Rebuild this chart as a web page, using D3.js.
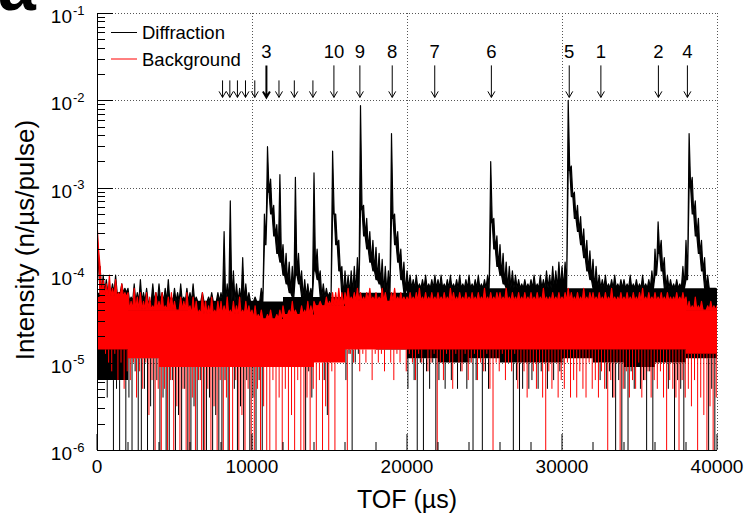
<!DOCTYPE html>
<html>
<head>
<meta charset="utf-8">
<script src="https://cdn.jsdelivr.net/npm/d3@7"></script>
<style>
  body { margin: 0; background: #fff; }
  svg { display: block; font-family: "Liberation Sans", Arial, sans-serif; }
</style>
</head>
<body>
<div id="chart"></div>
<script>
const width = 749;
const height = 524;
const plotLeft = 97, plotRight = 717, plotTop = 13, plotBottom = 450;

// TOF bin step (us); values are log10 of intensity (n/us/pulse)
const tofStep = 200;
// dense part of the noise band, read per 2000 us block
const bandStep = 2000;

// Diffraction: max per bin, and min per bin (on the peak tails: lower edge of the tail)
const diffHiLog = [
  -3.45,-3.9,-4.0,-4.05,-4.15,-4.1,-4.0,-4.2,-4.1,-4.15,     // 0
  -4.15,-4.25,-4.1,-4.2,-4.05,-4.2,-4.15,-4.3,-4.1,-4.2,     // 2000
  -4.1,-4.2,-4.15,-4.05,-4.25,-4.15,-4.2,-4.1,-4.25,-4.15,   // 4000
  -4.2,-4.1,-4.25,-4.3,-4.2,-4.35,-4.25,-4.2,-4.3,-4.2,      // 6000
  -4.2,-3.5,-4.1,-3.15,-3.95,-4.1,-4.15,-3.8,-4.1,-4.2,      // 8000
  -4.3,-4.25,-4.35,-4.15,-3.3,-2.53,-2.9,-3.2,-3.42,-2.85,   // 10000
  -3.65,-3.75,-3.85,-3.9,-2.88,-3.75,-3.95,-4.05,-4.1,-4.15, // 12000
  -2.83,-3.7,-3.95,-4.1,-4.15,-4.2,-2.58,-3.3,-3.6,-3.9,     // 14000
  -3.95,-4.0,-3.95,-3.9,-3.8,-2.06,-3.2,-3.35,-3.5,-3.6,     // 16000
  -3.68,-3.75,-3.82,-3.9,-3.95,-2.38,-3.3,-3.5,-3.7,-3.85,   // 18000
  -3.95,-4.0,-4.05,-4.0,-4.1,-4.05,-4.0,-4.1,-4.05,-4.0,     // 20000
  -4.05,-4.0,-4.1,-4.05,-4.0,-4.1,-4.05,-4.0,-4.1,-4.05,     // 22000
  -4.0,-4.1,-4.05,-4.0,-4.1,-4.05,-4.0,-2.7,-3.35,-3.55,     // 24000
  -3.65,-3.75,-3.85,-3.9,-3.95,-4.0,-4.05,-4.1,-4.05,-4.1,   // 26000
  -4.05,-4.0,-4.1,-4.0,-4.05,-3.95,-4.0,-3.9,-3.95,-3.85,    // 28000
  -3.9,-3.85,-2.0,-2.75,-3.05,-3.2,-3.33,-3.47,-3.6,-3.72,   // 30000
  -3.82,-3.9,-4.0,-4.05,-4.0,-4.1,-4.05,-4.0,-4.1,-4.05,     // 32000
  -4.05,-4.1,-4.0,-4.1,-4.05,-4.1,-4.0,-4.1,-4.05,-3.95,     // 34000
  -3.7,-3.39,-3.6,-3.8,-4.0,-4.05,-4.1,-4.05,-4.1,-3.9,      // 36000
  -3.6,-2.38,-2.88,-3.15,-3.35,-3.6,-3.8,-4.0,-4.15,-4.2,    // 38000
  -4.3
];
const diffLoLog = [
  -3.9,-4.6,-5.2,-5.4,-4.9,-6,-5.3,-6,-5.0,-6,               // 0
  -5.4,-6,-5.1,-6,-6,-5.3,-6,-5.5,-6,-5.2,                   // 2000
  -6,-5.4,-6,-6,-5.2,-6,-5.6,-6,-5.3,-6,                     // 4000
  -6,-5.5,-6,-5.2,-6,-6,-5.4,-6,-5.6,-6,                     // 6000
  -6,-5.2,-6,-5.0,-5.3,-6,-5.5,-6,-5.2,-6,                   // 8000
  -5.4,-6,-5.2,-6,-3.65,-3.05,-3.3,-3.55,-3.75,-3.85,        // 10000
  -4.0,-4.1,-4.2,-4.25,-4.0,-4.1,-4.9,-6,-5.1,-5.4,          // 12000
  -3.95,-4.05,-4.3,-5.2,-5.6,-5.0,-3.3,-3.65,-3.95,-4.25,    // 14000
  -5.2,-4.9,-6,-5.0,-4.9,-3.25,-3.55,-3.7,-3.85,-3.95,       // 16000
  -4.05,-4.1,-4.2,-4.25,-4.3,-3.35,-3.65,-3.85,-4.05,-4.2,   // 18000
  -5.3,-4.9,-5.2,-6,-5.0,-6,-5.1,-5.3,-5.0,-6,               // 20000
  -5.2,-4.9,-5.3,-5.0,-5.2,-4.9,-5.3,-5.1,-5.0,-5.3,         // 22000
  -5.0,-6,-5.2,-4.9,-6,-5.1,-5.3,-3.4,-3.7,-3.9,             // 24000
  -4.0,-4.1,-4.2,-4.25,-6,-5.2,-6,-5.3,-5.0,-5.3,            // 26000
  -5.2,-5.0,-5.3,-5.1,-4.9,-5.3,-5.0,-5.2,-4.9,-5.1,         // 28000
  -5.0,-4.9,-2.8,-3.1,-3.35,-3.5,-3.65,-3.8,-3.95,-4.05,     // 30000
  -4.15,-4.25,-5.2,-5.0,-5.3,-5.1,-5.4,-6,-5.2,-6,           // 32000
  -5.3,-6,-5.1,-5.3,-5.0,-5.3,-5.2,-6,-5.1,-6,               // 34000
  -4.0,-3.75,-3.95,-4.15,-5.3,-5.0,-6,-5.2,-5.3,-6,          // 36000
  -4.05,-3.0,-3.3,-3.55,-3.75,-3.95,-4.15,-6,-5.3,-6,        // 38000
  -5.2
];
const diffBandTopLog = [
  -4.2,-4.3,-4.3,-4.3,-4.3,-4.3,-4.25,-4.25,-4.2,-4.2,-4.15,
  -4.15,-4.15,-4.15,-4.15,-4.15,-4.15,-4.15,-4.15,-4.15,-4.2
];
const diffBandBottomLog = [
  -5.2,-4.95,-4.9,-4.9,-4.85,-4.75,-4.7,-4.7,-4.8,-4.85,-4.95,
  -5.0,-4.95,-5.0,-5.0,-4.95,-5.0,-5.05,-5.0,-4.95,-5.0
];

// Background: max and min per bin
const bkgHiLog = [
  -3.4,-3.9,-4.05,-4.1,-4.0,-4.15,-4.05,-4.2,-4.1,-4.2,      // 0
  -4.2,-4.3,-4.15,-4.25,-4.2,-4.3,-4.2,-4.25,-4.35,-4.2,     // 2000
  -4.3,-4.2,-4.35,-4.25,-4.2,-4.3,-4.4,-4.25,-4.3,-4.2,      // 4000
  -4.35,-4.25,-4.3,-4.4,-4.2,-4.3,-4.35,-4.25,-4.4,-4.3,     // 6000
  -4.3,-4.35,-4.25,-4.4,-4.3,-4.35,-4.25,-4.4,-4.3,-4.35,    // 8000
  -4.4,-4.35,-4.45,-4.4,-4.5,-4.45,-4.4,-4.5,-4.45,-4.4,     // 10000
  -4.35,-4.45,-4.4,-4.3,-4.4,-4.45,-4.35,-4.4,-4.3,-4.35,    // 12000
  -4.3,-4.4,-4.3,-4.35,-4.25,-4.3,-4.2,-4.2,-4.15,-4.2,      // 14000
  -4.2,-4.15,-4.25,-4.2,-4.15,-4.2,-4.25,-4.2,-4.15,-4.25,   // 16000
  -4.2,-4.25,-4.15,-4.2,-4.3,-4.2,-4.15,-4.25,-4.2,-4.25,    // 18000
  -4.25,-4.2,-4.25,-4.2,-4.15,-4.25,-4.2,-4.25,-4.2,-4.25,   // 20000
  -4.2,-4.25,-4.2,-4.25,-4.15,-4.2,-4.25,-4.2,-4.25,-4.2,    // 22000
  -4.25,-4.2,-4.25,-4.2,-4.25,-4.15,-4.25,-4.2,-4.25,-4.2,   // 24000
  -4.2,-4.25,-4.15,-4.25,-4.2,-4.25,-4.2,-4.25,-4.2,-4.25,   // 26000
  -4.2,-4.25,-4.2,-4.25,-4.15,-4.25,-4.25,-4.2,-4.25,-4.2,   // 28000
  -4.25,-4.2,-4.15,-4.2,-4.25,-4.2,-4.25,-4.15,-4.25,-4.2,   // 30000
  -4.2,-4.25,-4.2,-4.25,-4.2,-4.25,-4.15,-4.25,-4.25,-4.2,   // 32000
  -4.25,-4.2,-4.25,-4.2,-4.25,-4.2,-4.15,-4.25,-4.2,-4.25,   // 34000
  -4.2,-4.25,-4.2,-4.25,-4.2,-4.25,-4.25,-4.2,-4.25,-4.2,    // 36000
  -4.25,-4.3,-4.35,-4.25,-4.35,-4.3,-4.4,-4.35,-4.3,-4.35,   // 38000
  -4.35
];
const bkgLoLog = [
  -3.7,-4.6,-4.9,-5.0,-5.1,-4.9,-5.2,-5.0,-5.3,-5.1,
  -5.2,-5.0,-5.4,-5.1,-5.3,-5.0,-5.6,-5.2,-6,-5.3,
  -6,-5.3,-6,-5.2,-6,-5.5,-6,-5.3,-6,-6,
  -5.4,-6,-5.2,-6,-6,-5.3,-6,-5.5,-6,-5.2,
  -6,-5.4,-6,-6,-5.2,-6,-5.6,-6,-5.3,-6,
  -6,-5.3,-6,-5.5,-6,-6,-5.2,-6,-5.4,-6,
  -5.3,-6,-5.6,-6,-5.2,-6,-6,-5.4,-6,-5.3,
  -6,-5.2,-6,-5.5,-6,-5.1,-6,-4.9,-5.0,-4.8,
  -6,-4.9,-5.0,-4.8,-5.1,-4.9,-5.0,-4.8,-5.2,-4.9,
  -5.0,-4.9,-5.1,-4.8,-5.0,-5.2,-4.9,-5.0,-4.8,-5.1,
  -4.9,-5.0,-5.2,-4.9,-5.0,-4.8,-5.1,-5.0,-4.9,-6,
  -5.0,-5.2,-4.9,-5.0,-5.3,-4.9,-5.0,-5.1,-4.9,-5.2,
  -5.0,-4.9,-5.2,-5.0,-5.1,-4.9,-5.3,-6,-5.0,-5.1,
  -4.9,-5.2,-5.0,-5.1,-4.9,-5.3,-5.0,-5.1,-5.4,-5.0,
  -5.1,-5.3,-5.0,-5.4,-6,-5.1,-5.3,-5.0,-5.4,-5.2,
  -5.3,-5.0,-5.4,-5.2,-5.4,-5.1,-5.3,-5.4,-5.0,-5.3,
  -5.2,-5.4,-5.1,-5.3,-6,-5.2,-5.4,-5.0,-6,-5.3,
  -5.1,-5.4,-5.2,-5.3,-5.0,-5.4,-5.2,-5.1,-5.4,-5.2,
  -5.3,-5.1,-5.4,-6,-5.2,-5.3,-5.4,-6,-5.2,-5.4,
  -5.3,-5.5,-5.2,-6,-5.4,-5.6,-6,-5.5,-6,-5.4,
  -5.3
];
const bkgBandTopLog = [
  -4.25,-4.4,-4.4,-4.45,-4.45,-4.5,-4.45,-4.35,-4.3,-4.3,-4.3,
  -4.3,-4.3,-4.3,-4.3,-4.3,-4.3,-4.3,-4.3,-4.4,-4.4
];
const bkgBandBottomLog = [
  -4.85,-4.95,-5.05,-5.05,-5.05,-5.05,-5.05,-5.0,-4.85,-4.85,-4.85,
  -4.85,-4.85,-4.85,-4.85,-4.85,-4.85,-4.85,-4.85,-4.9,-4.9
];

// Bragg edge markers
const peakLabels = ["3", "10", "9", "8", "7", "6", "5", "1", "2", "4"];
const peakTof = [10930, 15285, 16960, 19047, 21790, 25443, 30467, 32509, 36219, 38090];
const minorPeakTof = [8100, 8570, 9060, 9580, 10180, 11740, 12730, 13930];

const xTicks = [0, 10000, 20000, 30000, 40000];
const yDecades = [-6, -5, -4, -3, -2, -1];

const seriesNames = ["Diffraction", "Background"];
const seriesColors = ["#000000", "#ff0000"];

const svg = d3.select('#chart')
  .append('svg')
  .attr('width', width)
  .attr('height', height);

const x = d3.scaleLinear().domain([0, 40000]).range([plotLeft, plotRight]);
const y = d3.scaleLog().domain([1e-6, 1e-1]).range([plotBottom, plotTop]);
const yl = v => y(Math.pow(10, v));

svg.append('defs').append('clipPath')
  .attr('id', 'plot')
  .append('rect')
  .attr('x', plotLeft).attr('y', plotTop)
  .attr('width', plotRight - plotLeft).attr('height', plotBottom - plotTop);

// grid
const grid = svg.append('g').attr('stroke', '#555').attr('stroke-dasharray', '1,2').attr('stroke-width', 1);
grid.selectAll('line.gx')
  .data(xTicks.slice(1))
  .enter().append('line')
  .attr('x1', d => x(d) + 0.5).attr('x2', d => x(d) + 0.5)
  .attr('y1', plotTop).attr('y2', plotBottom);
grid.selectAll('line.gy')
  .data(yDecades.slice(1))
  .enter().append('line')
  .attr('x1', plotLeft).attr('x2', plotRight)
  .attr('y1', d => Math.round(yl(d)) + 0.5)
  .attr('y2', d => Math.round(yl(d)) + 0.5);

const area = d3.area().x(d => d.x).y0(d => d.y0).y1(d => d.y1);

const drawSeries = (g, hi, lo, bandTop, bandBottom, color, shift) => {
  const blk = i => Math.floor(i * tofStep / bandStep);
  // dense band of the noise
  const bandPts = d3.range(0, 40001, bandStep / 4).map(t => ({
    x: x(t),
    y1: yl(bandTop[Math.floor(t / bandStep)]),
    y0: yl(bandBottom[Math.floor(t / bandStep)])
  }));
  g.append('path')
    .attr('d', area.curve(d3.curveStepAfter)(bandPts))
    .attr('fill', color);
  // per-bin maxima (and tails) as a saw-tooth on top of the band
  const pts = [];
  hi.forEach((h, i) => {
    const floor = Math.max(lo[i], bandTop[blk(i)]);
    pts.push({ x: x(i * tofStep), y1: yl(h), y0: yl(floor) });
    pts.push({ x: x(i * tofStep + tofStep / 2), y1: yl(floor), y0: yl(floor) });
  });
  g.append('path')
    .attr('d', area.curve(d3.curveLinear)(pts))
    .attr('fill', color)
    .attr('stroke', color)
    .attr('stroke-width', 1.2)
    .attr('stroke-linejoin', 'round');
  // bins dropping below the band (down to empty bins)
  const drops = lo.map((v, i) => {
    const b = bandBottom[blk(i)];
    if (v >= b) return '';
    const xp = x(i * tofStep + shift * tofStep);
    return `M${xp},${yl(b)}V${yl(v)}`;
  }).join('');
  g.append('path')
    .attr('d', drops)
    .attr('fill', 'none')
    .attr('stroke', color)
    .attr('stroke-width', 1);
};

const plot = svg.append('g').attr('clip-path', 'url(#plot)');
drawSeries(plot, diffHiLog, diffLoLog, diffBandTopLog, diffBandBottomLog, seriesColors[0], 0.3);
drawSeries(plot, bkgHiLog, bkgLoLog, bkgBandTopLog, bkgBandBottomLog, seriesColors[1], 0.75);

// axes lines
svg.append('line').attr('x1', plotLeft + 0.5).attr('x2', plotLeft + 0.5).attr('y1', plotTop).attr('y2', plotBottom + 0.5).attr('stroke', '#000');
svg.append('line').attr('x1', plotLeft).attr('x2', plotRight).attr('y1', plotBottom + 0.5).attr('y2', plotBottom + 0.5).attr('stroke', '#000');

// y ticks (log)
const yMinor = [];
yDecades.slice(0, -1).forEach(d => {
  for (let k = 2; k <= 9; k++) yMinor.push(k * Math.pow(10, d));
});
svg.selectAll('line.ymin')
  .data(yMinor)
  .enter().append('line')
  .attr('x1', plotLeft).attr('x2', plotLeft + 8)
  .attr('y1', d => Math.round(y(d)) + 0.5).attr('y2', d => Math.round(y(d)) + 0.5)
  .attr('stroke', '#000');
svg.selectAll('line.ymaj')
  .data(yDecades)
  .enter().append('line')
  .attr('x1', plotLeft).attr('x2', plotLeft + 16)
  .attr('y1', d => Math.round(yl(d)) + 0.5).attr('y2', d => Math.round(yl(d)) + 0.5)
  .attr('stroke', '#000');

// y tick labels 10^n
const yLab = svg.selectAll('g.ylab')
  .data(yDecades)
  .enter().append('g')
  .attr('transform', d => `translate(0,${yl(d)})`);
yLab.append('text')
  .attr('x', 72).attr('y', 10)
  .attr('text-anchor', 'end')
  .attr('font-size', 19)
  .text('10');
yLab.append('text')
  .attr('x', 73).attr('y', 1.5)
  .attr('font-size', 13)
  .text(d => '-' + Math.abs(d));

// x ticks
const xMinor = d3.range(0, 40001, 2000);
svg.selectAll('line.xmin')
  .data(xMinor)
  .enter().append('line')
  .attr('x1', d => x(d)).attr('x2', d => x(d))
  .attr('y1', plotBottom).attr('y2', d => d % 10000 === 0 ? plotBottom - 16 : plotBottom - 8)
  .attr('stroke', '#000');
svg.selectAll('text.xlab')
  .data(xTicks)
  .enter().append('text')
  .attr('x', d => x(d)).attr('y', 473)
  .attr('text-anchor', 'middle')
  .attr('font-size', 19)
  .text(d => d);

// axis titles
svg.append('text')
  .attr('x', x(20000)).attr('y', 508)
  .attr('text-anchor', 'middle')
  .attr('font-size', 25)
  .text('TOF (\u00b5s)');
svg.append('text')
  .attr('transform', 'translate(34,240) rotate(-90)')
  .attr('text-anchor', 'middle')
  .attr('font-size', 26)
  .text('Intensity (n/\u00b5s/pulse)');

// peak markers
const arrow = (g, xp, y0, y1, w) => {
  g.append('path')
    .attr('d', `M${xp},${y0}V${y1}M${xp - 3.5},${y1 - 6}L${xp},${y1}L${xp + 3.5},${y1 - 6}`)
    .attr('fill', 'none')
    .attr('stroke', '#000')
    .attr('stroke-width', w);
};
const tip = y(1e-2) - 3;
const marks = svg.append('g');
minorPeakTof.forEach(t => arrow(marks, x(t), tip - 17, tip, 1));
peakTof.forEach((t, i) => {
  arrow(marks, x(t), tip - 32, tip, peakLabels[i] === '3' ? 2 : 1);
  marks.append('text')
    .attr('x', x(t)).attr('y', 58)
    .attr('text-anchor', 'middle')
    .attr('font-size', 18.5)
    .text(peakLabels[i]);
});

// legend
const legend = svg.append('g');
seriesNames.forEach((name, i) => {
  const ly = 32.5 + i * 26.5;
  legend.append('line')
    .attr('x1', 111).attr('x2', 137)
    .attr('y1', ly).attr('y2', ly)
    .attr('stroke', seriesColors[i]);
  legend.append('text')
    .attr('x', 142).attr('y', ly + 6.5)
    .attr('font-size', 18.5)
    .text(name);
});

// panel letter (cropped at the top edge, as in the source figure)
svg.append('text')
  .attr('x', -2).attr('y', 10)
  .attr('font-size', 68)
  .attr('font-weight', 'bold')
  .text('a');
</script>
</body>
</html>
